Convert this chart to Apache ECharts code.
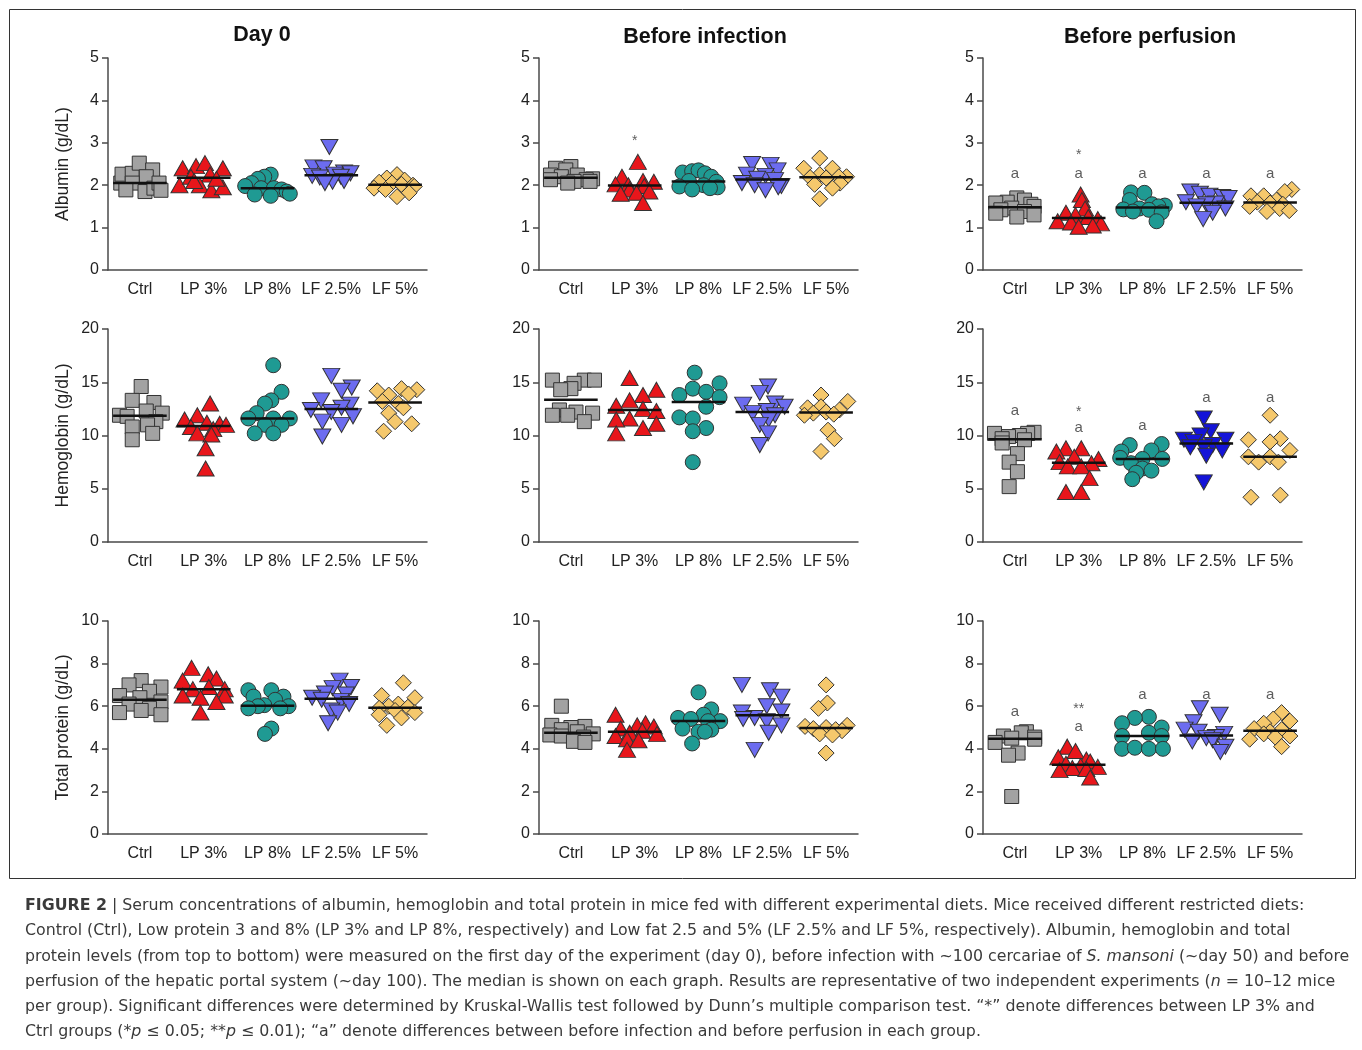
<!DOCTYPE html>
<html><head><meta charset="utf-8">
<script src="https://cdn.jsdelivr.net/npm/echarts@6/dist/echarts.min.js"></script>
<style>html,body{margin:0;padding:0;background:#fff}#c{width:1362px;height:1050px}</style>
</head><body><div id="c"></div>
<script>
const categories = ['Ctrl', 'LP 3%', 'LP 8%', 'LF 2.5%', 'LF 5%'];
const columnTitles = ['Day 0', 'Before infection', 'Before perfusion'];
const rowNames = ['Albumin (g/dL)', 'Hemoglobin (g/dL)', 'Total protein (g/dL)'];
const rowMax = [5, 20, 10];
const rowInterval = [1, 5, 2];

// ---- Albumin ----
const albuminDay0 = [
  [2.05,2.26,2.28,2.52,2.36,2.2,2.05,1.89,1.85,1.93,2.05,1.88],
  [2.4,2.45,2.52,2.4,2.0,2.2,2.25,2.0,1.88,1.95,2.15,2.1],
  [2.25,2.2,2.15,2.05,1.98,1.93,1.93,1.9,1.85,1.8,1.78,1.75],
  [2.9,2.42,2.4,2.3,2.28,2.25,2.22,2.2,2.18,2.1,2.08,2.05],
  [2.25,2.17,2.12,2.07,2.05,2.02,2.0,1.97,1.93,1.9,1.82,1.73]
];
const albuminDay0Jitter = [
  [-0.3,-0.28,-0.12,-0.01,0.2,0.1,-0.12,-0.22,0.08,0.22,0.3,0.33],
  [-0.33,-0.12,0.02,0.3,-0.38,-0.2,0.1,-0.06,0.12,0.3,0.2,-0.15],
  [0.05,-0.05,-0.15,-0.25,-0.35,-0.1,0.1,0.22,0.3,0.35,-0.2,0.05],
  [-0.03,-0.28,-0.12,0.2,0.3,0.05,-0.3,0.15,-0.18,0.2,0.02,-0.1],
  [0.03,-0.13,0.15,-0.25,-0.05,0.1,0.28,0.3,-0.33,-0.15,0.22,0.03]
];
const albuminInfection = [
  [2.44,2.4,2.36,2.24,2.24,2.2,2.15,2.13,2.13,2.09,2.09,2.05],
  [2.55,2.2,2.1,2.08,2.02,2.0,1.98,1.9,1.85,1.82,1.8,1.58],
  [2.3,2.33,2.35,2.28,2.2,2.1,2.08,2.0,1.97,1.95,1.9,1.93],
  [2.5,2.48,2.35,2.25,2.22,2.15,2.12,2.05,2.0,1.98,1.95,1.88],
  [2.64,2.4,2.4,2.25,2.2,2.2,2.18,2.17,2.05,2.02,1.93,1.68]
];
const albuminInfectionJitter = [
  [0,-0.24,-0.08,-0.32,0.1,-0.15,0.34,-0.32,0.24,0.05,0.3,-0.05],
  [0.05,-0.2,0.13,0.3,-0.3,-0.1,0.15,-0.08,0.23,0.03,-0.22,0.13],
  [-0.25,-0.1,0,0.1,0.2,-0.15,0.28,0.08,-0.3,0.3,-0.1,0.18],
  [-0.16,0.13,0.24,-0.24,0.05,-0.08,0.2,-0.32,-0.12,0.3,0.25,0.05],
  [-0.1,-0.35,0.1,-0.1,0.32,0.2,-0.25,0,0.22,-0.18,0.1,-0.1]
];
const albuminInfectionNotes = [[1, 3.03, '*']];
const albuminPerfusion = [
  [1.7,1.65,1.6,1.58,1.55,1.5,1.46,1.42,1.38,1.34,1.3,1.25],
  [1.78,1.65,1.45,1.35,1.3,1.25,1.2,1.15,1.12,1.1,1.05,1.02],
  [1.83,1.82,1.65,1.55,1.52,1.5,1.45,1.43,1.42,1.38,1.36,1.15],
  [1.85,1.8,1.75,1.72,1.7,1.6,1.57,1.55,1.5,1.45,1.35,1.2],
  [1.9,1.85,1.75,1.75,1.65,1.6,1.58,1.55,1.5,1.45,1.4,1.38]
];
const albuminPerfusionJitter = [
  [0.03,0.15,-0.12,-0.3,0.25,0.3,-0.05,-0.22,0.15,-0.3,0.3,0.03],
  [0.03,0.05,0.1,-0.2,-0.05,0.15,0.3,-0.33,-0.12,0.35,0.22,0],
  [-0.18,0.03,-0.2,0.15,0.35,0.25,-0.05,-0.3,0.1,-0.15,0.3,0.22],
  [-0.25,-0.1,0.05,0.25,0.35,-0.32,0.15,0,-0.15,0.3,0.1,-0.05],
  [0.34,0.23,-0.3,-0.1,0.1,-0.2,0,0.2,-0.32,0.15,0.3,-0.05]
];
const albuminPerfusionNotes = [[0,2.27,'a'],[1,2.27,'a'],[1,2.7,'*'],[2,2.27,'a'],[3,2.27,'a'],[4,2.27,'a']];

// ---- Hemoglobin ----
const hemoglobinDay0 = [
  [14.6,13.3,13.1,12.3,12.1,11.9,11.8,11.3,11.0,10.8,10.2,9.6],
  [13.0,11.9,11.5,11.2,11.1,11.0,10.8,10.6,10.2,10.1,8.8,6.9],
  [16.6,14.1,13.3,13.0,12.1,11.6,11.6,11.6,11.0,11.0,10.2,10.2],
  [15.6,14.5,14.2,13.3,12.9,12.6,12.4,12.2,11.8,11.3,11.0,9.9],
  [14.4,14.3,14.2,13.8,13.9,13.2,13.0,12.1,12.6,11.3,11.1,10.4]
];
const hemoglobinDay0Jitter = [
  [0.02,-0.12,0.22,0.1,0.35,-0.32,-0.2,0.25,0.12,-0.12,0.2,-0.12],
  [0.1,-0.1,-0.3,0.05,0.25,0.35,-0.2,0.15,-0.1,0.12,0.03,0.03],
  [0.09,0.22,0.06,-0.04,-0.17,-0.3,0.09,0.35,-0.04,0.22,-0.2,0.09],
  [0,0.32,0.16,-0.16,0.3,0.16,-0.32,0,0.34,-0.14,0.16,-0.14],
  [0.1,0.34,-0.28,-0.1,0.21,-0.2,0.05,-0.1,0.13,0,0.26,-0.18]
];
const hemoglobinInfection = [
  [15.2,15.2,15.2,14.9,14.4,14.3,12.4,12.2,12.1,11.9,11.9,11.3],
  [15.4,14.3,13.8,13.3,12.8,12.5,12.3,11.6,11.5,11.1,10.7,10.2],
  [15.9,14.9,14.4,14.1,13.8,13.6,12.7,11.7,11.6,10.7,10.4,7.5],
  [14.6,14.0,13.0,12.9,12.7,12.3,12.1,11.9,11.5,11.0,10.2,9.1],
  [13.8,13.2,12.6,12.7,12.4,12.1,12.2,12.0,11.9,10.5,9.7,8.5]
];
const hemoglobinInfectionJitter = [
  [-0.29,0.21,0.37,0.05,0,-0.16,-0.18,0.08,0.34,-0.29,-0.05,0.21],
  [-0.08,0.34,0.13,-0.08,-0.29,0.13,0.34,-0.08,-0.29,0.34,0.13,-0.29],
  [-0.06,0.33,-0.09,0.12,-0.3,0.33,0.12,-0.3,-0.09,0.12,-0.09,-0.09],
  [0.09,-0.04,0.2,-0.3,0.35,0.07,-0.15,0.2,0.1,-0.04,0.09,-0.04],
  [-0.08,0.34,-0.29,-0.08,0.21,-0.2,0,0.12,-0.34,0.03,0.13,-0.08]
];
const hemoglobinPerfusion = [
  [10.3,10.2,10.2,10.0,9.9,9.7,9.6,9.3,8.3,7.5,6.6,5.2],
  [8.8,8.8,8.5,8.0,7.8,7.5,7.4,7.1,7.1,6.0,4.7,4.7],
  [9.2,9.1,8.6,8.5,7.9,7.8,7.8,7.4,6.9,6.7,6.5,5.9],
  [11.6,10.4,10.0,9.6,9.6,9.4,9.1,8.9,8.6,8.9,8.1,5.6],
  [11.9,9.7,9.6,9.4,8.6,8.0,8.0,7.5,7.5,4.4,4.2]
];
const hemoglobinPerfusionJitter = [
  [0.3,-0.32,0.2,0.07,-0.1,-0.2,0.15,-0.2,0.04,-0.09,0.04,-0.09],
  [-0.2,0.04,-0.35,-0.07,0.31,-0.3,0.2,-0.17,0.04,0.17,-0.2,0.04],
  [0.3,-0.2,0.14,-0.33,-0.35,0.31,0,-0.18,0,0.14,-0.1,-0.16],
  [-0.04,0.07,-0.09,-0.35,0.3,-0.2,0.1,-0.04,0.25,-0.25,0,-0.04],
  [0,0.16,-0.34,0,0.31,-0.34,0,-0.18,0.13,0.16,-0.3]
];
const hemoglobinPerfusionNotes = [[0,12.3,'a'],[1,10.7,'a'],[1,12.2,'*'],[2,10.9,'a'],[3,13.5,'a'],[4,13.5,'a']];

// ---- Total protein ----
const proteinDay0 = [
  [7.2,7.0,6.9,6.7,6.5,6.4,6.2,6.1,5.9,5.8,5.7,5.6],
  [7.8,7.5,7.3,7.2,6.9,6.8,6.8,6.5,6.5,6.4,6.2,5.7],
  [6.75,6.75,6.45,6.45,6.3,6.05,6.0,6.0,5.9,5.9,4.95,4.7],
  [7.2,6.9,6.85,6.6,6.55,6.4,6.3,6.25,6.1,5.8,5.7,5.2],
  [7.1,6.5,6.4,6.1,6.0,5.95,5.9,5.8,5.7,5.6,5.45,5.1]
];
const proteinDay0Jitter = [
  [0.02,-0.17,0.33,0.15,-0.32,0,0.33,-0.17,0.15,0.02,-0.32,0.33],
  [-0.19,0.07,0.2,-0.33,0.08,-0.17,0.33,-0.33,0.33,-0.05,0.2,-0.05],
  [-0.3,0.06,-0.22,0.25,0.12,-0.05,-0.15,0.33,-0.3,0.2,0.06,-0.04],
  [0.13,0.31,0.02,-0.1,0.23,-0.3,-0.15,0.15,0.28,0,0.1,-0.05],
  [0.13,-0.21,0.31,0.05,-0.1,0.2,-0.25,0,0.31,-0.25,0.1,-0.13]
];
const proteinInfection = [
  [6.0,5.1,5.05,5.0,4.9,4.8,4.7,4.65,4.6,4.55,4.35,4.3],
  [5.6,5.2,5.1,5.05,4.95,4.85,4.75,4.7,4.6,4.45,4.4,3.95],
  [6.65,5.85,5.6,5.45,5.4,5.3,5.3,4.95,4.9,4.8,4.8,4.25],
  [7.0,6.75,6.45,6.0,5.75,5.7,5.45,5.4,5.3,5.1,4.75,3.95],
  [7.0,6.15,5.9,5.1,5.05,5.0,4.95,4.9,4.85,4.7,4.65,3.8]
];
const proteinInfectionJitter = [
  [-0.15,-0.3,0.22,0,-0.15,0.1,0.35,-0.33,-0.15,0.2,0.04,0.22],
  [-0.3,0.17,0.04,0.3,-0.22,0.12,-0.08,0.35,-0.3,-0.12,0.06,-0.12],
  [0,0.2,0.08,-0.32,-0.12,0.34,0.15,-0.25,0.2,0,0.1,-0.1],
  [-0.32,0.12,0.3,0.07,0.3,-0.32,-0.12,-0.3,0.07,0.3,0.1,-0.12],
  [0,0.02,-0.12,0.33,-0.33,0,-0.2,0.15,0.25,-0.1,0.1,0]
];
const proteinPerfusion = [
  [4.8,4.75,4.6,4.55,4.45,4.5,4.3,3.8,3.7,1.76],
  [4.1,3.9,3.6,3.5,3.4,3.3,3.2,3.15,3.1,3.05,3.0,2.65],
  [5.5,5.45,5.2,5.0,4.75,4.6,4.6,4.0,4.05,4.0,4.0],
  [5.9,5.6,5.25,4.9,4.8,4.7,4.55,4.5,4.4,4.35,4.1,3.85],
  [5.7,5.4,5.3,5.2,4.95,4.9,4.8,4.7,4.6,4.55,4.45,4.1]
];
const proteinPerfusionJitter = [
  [0.18,0.1,-0.18,0.31,0.31,-0.05,-0.31,0.05,-0.1,-0.05],
  [-0.18,-0.05,-0.32,0.12,0.18,-0.2,0.03,0.3,-0.1,0.12,-0.3,0.18],
  [0.1,-0.12,-0.32,0.3,0.1,-0.32,0.3,-0.32,-0.12,0.1,0.32],
  [-0.1,0.21,-0.2,-0.34,-0.12,0.28,0.15,0,0.1,-0.22,0.3,0.22],
  [0.18,0.05,0.31,-0.1,-0.25,0.18,0,-0.1,0.31,0.08,-0.32,0.18]
];
const proteinPerfusionNotes = [[0,5.73,'a'],[1,5.05,'a'],[1,5.85,'**'],[2,6.55,'a'],[3,6.55,'a'],[4,6.55,'a']];

const captionLines = [
  '{b|FIGURE 2} | Serum concentrations of albumin, hemoglobin and total protein in mice fed with different experimental diets. Mice received different restricted diets:',
  'Control (Ctrl), Low protein 3 and 8% (LP 3% and LP 8%, respectively) and Low fat 2.5 and 5% (LF 2.5% and LF 5%, respectively). Albumin, hemoglobin and total',
  'protein levels (from top to bottom) were measured on the first day of the experiment (day 0), before infection with \u223c100 cercariae of {i|S. mansoni} (\u223cday 50) and before',
  'perfusion of the hepatic portal system (\u223cday 100). The median is shown on each graph. Results are representative of two independent experiments ({i|n} = 10\u201312 mice',
  'per group). Significant differences were determined by Kruskal-Wallis test followed by Dunn\u2019s multiple comparison test. \u201c*\u201d denote differences between LP 3% and',
  'Ctrl groups (*{i|p} \u2264 0.05; **{i|p} \u2264 0.01); \u201ca\u201d denote differences between before infection and before perfusion in each group.'
];

// ---- styling / layout ----
const FONT = '"Liberation Sans", Arial, Helvetica, sans-serif';
const CAPFONT = '"DejaVu Sans", sans-serif';
const groupColors = ['#a2a2a2', '#e8161b', '#1f9a93', '#6c6cf0', '#f5c86c'];
const symbols = ['rect', 'triangle', 'circle', 'triangle', 'diamond'];
const symbolSizes = [14, [17, 15], 15, [17, 15], 16];
const axisColor = '#4a4a4a';
const colLeft = [108, 539, 983];
const rowTop = [58, 329, 621];
const gridH = [212, 213, 213];
const gridW = 319;

const panels = [
  [albuminDay0, albuminDay0Jitter, []],
  [albuminInfection, albuminInfectionJitter, albuminInfectionNotes],
  [albuminPerfusion, albuminPerfusionJitter, albuminPerfusionNotes],
  [hemoglobinDay0, hemoglobinDay0Jitter, []],
  [hemoglobinInfection, hemoglobinInfectionJitter, []],
  [hemoglobinPerfusion, hemoglobinPerfusionJitter, hemoglobinPerfusionNotes],
  [proteinDay0, proteinDay0Jitter, []],
  [proteinInfection, proteinInfectionJitter, []],
  [proteinPerfusion, proteinPerfusionJitter, proteinPerfusionNotes]
];

function median(a) {
  const s = a.slice().sort((x, y) => x - y);
  const n = s.length;
  return n % 2 ? s[(n - 1) / 2] : (s[n / 2 - 1] + s[n / 2]) / 2;
}

const grids = [], xAxes = [], yAxes = [], series = [];
panels.forEach((p, k) => {
  const r = Math.floor(k / 3), c = k % 3;
  const [vals, jit, notes] = p;
  grids.push({ left: colLeft[c], top: rowTop[r], width: gridW, height: gridH[r] });
  xAxes.push({
    type: 'category', gridIndex: k, data: categories, boundaryGap: true,
    axisLine: { onZero: false, lineStyle: { color: axisColor, width: 1.5 } },
    axisTick: { alignWithLabel: true, length: 5, lineStyle: { color: axisColor, width: 1.5 } },
    axisLabel: { color: '#222', fontSize: 16, margin: 12, interval: 0, fontFamily: FONT },
    splitLine: { show: false }
  });
  xAxes.push({ type: 'value', gridIndex: k, min: -0.5, max: 4.5, show: false, axisLine: { onZero: false } });
  yAxes.push({
    type: 'value', gridIndex: k, min: 0, max: rowMax[r], interval: rowInterval[r],
    name: c === 0 ? rowNames[r] : '', nameLocation: 'middle', nameGap: 36, nameRotate: 90,
    nameTextStyle: { color: '#222', fontSize: 17.5, fontFamily: FONT },
    axisLine: { show: true, onZero: false, lineStyle: { color: axisColor, width: 1.5 } },
    axisTick: { show: true, length: 6, lineStyle: { color: axisColor, width: 1.5 } },
    axisLabel: { color: '#222', fontSize: 16, margin: 9, fontFamily: FONT },
    splitLine: { show: false }
  });
  vals.forEach((v, g) => {
    const col = (k === 5 && g === 3) ? '#1414d8' : groupColors[g];
    series.push({
      type: 'scatter', xAxisIndex: 2 * k + 1, yAxisIndex: k,
      symbol: symbols[g], symbolSize: symbolSizes[g], symbolRotate: g === 3 ? 180 : 0,
      itemStyle: { color: col, borderColor: '#333', borderWidth: 1, opacity: 1 },
      data: v.map((y, i) => [g + jit[g][i], y]), z: 2, silent: true
    });
  });
  series.push({
    type: 'custom', xAxisIndex: 2 * k + 1, yAxisIndex: k, z: 10, silent: true,
    data: vals.map((v, g) => [g, median(v)]),
    renderItem: (params, api) => {
      const a = api.coord([api.value(0) - 0.42, api.value(1)]);
      const b = api.coord([api.value(0) + 0.42, api.value(1)]);
      return { type: 'line', shape: { x1: a[0], y1: a[1], x2: b[0], y2: b[1] }, style: { stroke: '#111', lineWidth: 2.5 } };
    }
  });
  if (notes.length) {
    series.push({
      type: 'scatter', xAxisIndex: 2 * k + 1, yAxisIndex: k, symbolSize: 1, silent: true, z: 5,
      itemStyle: { color: 'rgba(0,0,0,0)' },
      data: notes.map(n => ({ value: [n[0], n[1]], label: { formatter: n[2], fontSize: n[2] === 'a' ? 15 : 14 } })),
      label: { show: true, position: 'inside', color: '#333', fontFamily: FONT }
    });
  }
});

const titlePos = [[262, 35], [705, 37], [1150, 37]];
const graphic = [
  { type: 'rect', shape: { x: 9.5, y: 9.5, width: 1346, height: 869 }, style: { fill: 'none', stroke: '#333', lineWidth: 1 }, silent: true }
];
columnTitles.forEach((t, i) => graphic.push({
  type: 'text', x: titlePos[i][0], y: titlePos[i][1],
  style: { text: t, align: 'center', verticalAlign: 'middle', fontSize: 21.5, fontWeight: 'bold', fontFamily: FONT, fill: '#111' }
}));
const capSize = 15.8;
captionLines.forEach((t, i) => graphic.push({
  type: 'text', x: 25, y: 906 + i * 25.2,
  style: {
    text: t, align: 'left', verticalAlign: 'middle', fontSize: capSize, fontFamily: CAPFONT, fill: '#3a3a3a',
    rich: {
      b: { fontSize: capSize, fontFamily: CAPFONT, fontWeight: 'bold', fill: '#3a3a3a' },
      i: { fontSize: capSize, fontFamily: CAPFONT, fontStyle: 'italic', fill: '#3a3a3a' }
    }
  }
}));

const chart = echarts.init(document.getElementById('c'));
chart.setOption({
  animation: false,
  backgroundColor: '#fff',
  grid: grids, xAxis: xAxes, yAxis: yAxes, series: series, graphic: graphic
});
</script></body></html>
